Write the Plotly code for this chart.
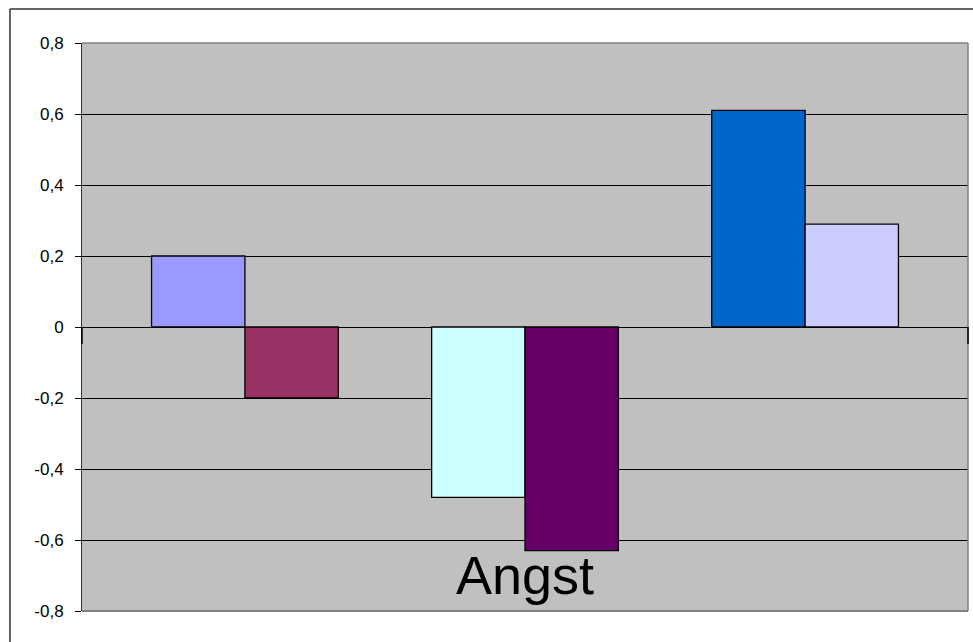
import plotly.graph_objects as go

# One category, eight series slots (two of them empty), Excel-style palette
category = ["Angst"]
series_values = [0.20, -0.20, None, -0.48, -0.63, None, 0.61, 0.29]
series_colors = ["#9999FF", "#993366", "#C0C0C0", "#CCFFFF",
                 "#660066", "#C0C0C0", "#0066CC", "#CCCCFF"]

tick_vals = [0.8, 0.6, 0.4, 0.2, 0, -0.2, -0.4, -0.6, -0.8]
tick_text = ["0,8", "0,6", "0,4", "0,2", "0", "-0,2", "-0,4", "-0,6", "-0,8"]

fig = go.Figure()
for i, (v, c) in enumerate(zip(series_values, series_colors)):
    fig.add_trace(go.Bar(
        x=category, y=[v], name=f"s{i + 1}",
        marker=dict(color=c, line=dict(color="black", width=1.3)),
        showlegend=False, hoverinfo="skip",
    ))

fig.update_layout(
    width=973, height=642,
    margin=dict(l=82, r=5, t=43, b=31),
    paper_bgcolor="white", plot_bgcolor="#C0C0C0",
    barmode="group", bargap=0.157, bargroupgap=0,
    font=dict(family="Liberation Sans, Arial, sans-serif", color="black"),
)

fig.update_xaxes(
    showticklabels=False, showgrid=False, zeroline=False,
    showline=False, ticks="",
)
fig.update_yaxes(
    range=[-0.8, 0.8], tickvals=tick_vals, ticktext=tick_text,
    tickfont=dict(size=17, color="black"),
    ticks="outside", ticklen=6, tickcolor="black", tickwidth=1,
    ticklabelstandoff=8,
    showgrid=True, gridcolor="black", gridwidth=1,
    zeroline=True, zerolinecolor="black", zerolinewidth=1,
    showline=True, linecolor="#333333", linewidth=1,
)

shapes = [
    # plot-area border (top, right, bottom) in grey
    dict(type="line", xref="paper", yref="paper", x0=0, x1=1, y0=1, y1=1,
         line=dict(color="#808080", width=1.5), layer="above"),
    dict(type="line", xref="paper", yref="paper", x0=1, x1=1, y0=0, y1=1,
         line=dict(color="#808080", width=1.5), layer="above"),
    dict(type="line", xref="paper", yref="paper", x0=0, x1=1, y0=0, y1=0,
         line=dict(color="#808080", width=2), layer="above"),
    # category-axis tick marks at both ends of the zero line
    dict(type="line", xref="paper", yref="y", x0=0, x1=0, y0=0, y1=-0.048,
         line=dict(color="black", width=1.5), layer="above"),
    dict(type="line", xref="paper", yref="y", x0=1, x1=1, y0=0, y1=-0.048,
         line=dict(color="black", width=1.5), layer="above"),
    # chart-area frame
    dict(type="line", xref="paper", yref="paper", x0=-0.0813, x1=1.1,
         y0=1.06, y1=1.06, line=dict(color="#333333", width=1.5)),
    dict(type="line", xref="paper", yref="paper", x0=-0.0813, x1=-0.0813,
         y0=1.06, y1=-0.2, line=dict(color="#333333", width=1.5)),
]
fig.update_layout(shapes=shapes)

fig.add_annotation(
    x=category[0], y=-0.8, xref="x", yref="y",
    text=category[0], showarrow=False,
    yanchor="bottom", yshift=4,
    font=dict(size=54, color="black", family="Liberation Sans, Arial, sans-serif"),
)

fig.write_html("out.html")
